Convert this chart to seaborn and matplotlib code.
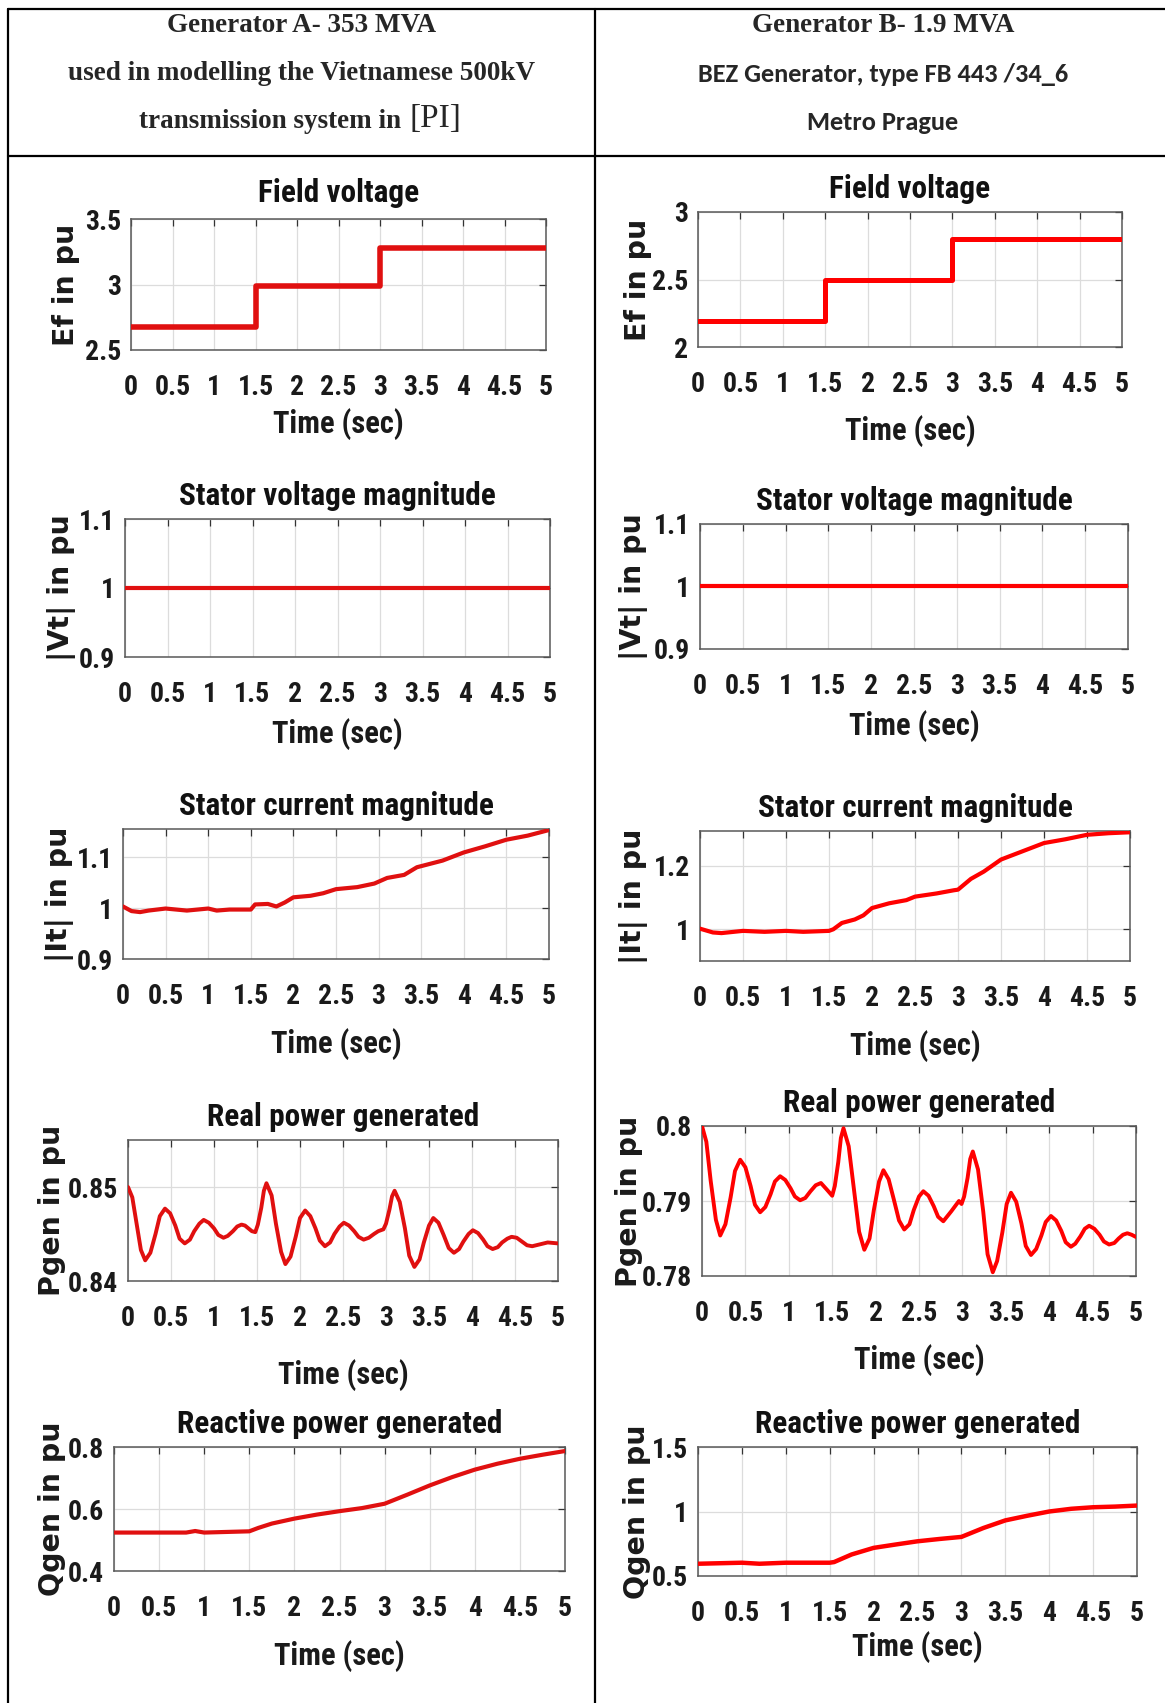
import matplotlib
matplotlib.use("Agg")
import matplotlib.pyplot as plt
import seaborn as sns
from matplotlib.lines import Line2D
from matplotlib.ticker import FuncFormatter, FixedLocator

# ---------------- data ----------------
# Field voltage (step changes at 1.5 s and 3 s)
fv_time = [0.0, 1.5, 3.0, 5.0]
fv_a = [2.675, 2.99, 3.275, 3.275]
fv_b = [2.19, 2.50, 2.80, 2.80]

# Stator voltage magnitude
vt_time = [0.0, 5.0]
vt_a = [1.0, 1.0]
vt_b = [1.0, 1.0]

# Stator current magnitude
it_a_time = [0, 0.1, 0.2, 0.3, 0.5, 0.75, 1.0, 1.1, 1.25, 1.5, 1.55, 1.7, 1.8, 1.9,
             2.0, 2.2, 2.35, 2.5, 2.75, 2.95, 3.1, 3.3, 3.45, 3.75, 4.0, 4.25, 4.5,
             4.75, 5.0]
it_a = [1.003, 0.994, 0.992, 0.995, 0.999, 0.995, 0.999, 0.995, 0.997, 0.997, 1.007,
        1.008, 1.003, 1.011, 1.021, 1.024, 1.029, 1.037, 1.041, 1.048, 1.059, 1.065,
        1.080, 1.093, 1.109, 1.121, 1.134, 1.142, 1.153]

it_b_time = [0, 0.15, 0.25, 0.5, 0.75, 1.0, 1.2, 1.5, 1.55, 1.65, 1.8, 1.9, 2.0, 2.2,
             2.4, 2.5, 2.75, 2.95, 3.0, 3.15, 3.3, 3.5, 3.75, 4.0, 4.25, 4.5, 4.75, 5.0]
it_b = [1.002, 0.990, 0.988, 0.995, 0.992, 0.995, 0.992, 0.995, 1.000, 1.020, 1.031,
        1.044, 1.067, 1.082, 1.092, 1.103, 1.113, 1.123, 1.125, 1.159, 1.182, 1.220,
        1.246, 1.272, 1.284, 1.298, 1.303, 1.306]

# Real power generated
pg_a_time = [0.00, 0.05, 0.10, 0.15, 0.20, 0.26, 0.32, 0.37, 0.43, 0.49, 0.55, 0.60,
             0.66, 0.72, 0.77, 0.83, 0.88, 0.94, 1.00, 1.05, 1.11, 1.16, 1.22, 1.27,
             1.32, 1.36, 1.40, 1.44, 1.48, 1.51, 1.55, 1.58, 1.61, 1.67, 1.72, 1.78,
             1.83, 1.89, 1.95, 2.00, 2.06, 2.12, 2.18, 2.23, 2.29, 2.35, 2.40, 2.46,
             2.51, 2.57, 2.63, 2.68, 2.74, 2.80, 2.86, 2.91, 2.97, 3.00, 3.04, 3.07,
             3.10, 3.16, 3.22, 3.27, 3.33, 3.39, 3.44, 3.50, 3.55, 3.61, 3.67, 3.73,
             3.79, 3.85, 3.90, 3.96, 4.01, 4.07, 4.13, 4.18, 4.24, 4.30, 4.35, 4.41,
             4.46, 4.52, 4.58, 4.64, 4.70, 4.79, 4.88, 5.00]
pg_a = [0.8500, 0.8489, 0.8461, 0.8433, 0.8422, 0.8430, 0.8450, 0.8469, 0.8477, 0.8472,
        0.8459, 0.8445, 0.8440, 0.8444, 0.8453, 0.8461, 0.8465, 0.8462, 0.8456, 0.8449,
        0.8446, 0.8448, 0.8453, 0.8458, 0.8460, 0.8459, 0.8456, 0.8453, 0.8452, 0.8460,
        0.8478, 0.8496, 0.8504, 0.8491, 0.8461, 0.8431, 0.8418, 0.8426, 0.8447, 0.8467,
        0.8475, 0.8469, 0.8456, 0.8443, 0.8437, 0.8441, 0.8450, 0.8458, 0.8462, 0.8459,
        0.8453, 0.8447, 0.8444, 0.8446, 0.8450, 0.8453, 0.8455, 0.8461, 0.8476, 0.8490,
        0.8496, 0.8484, 0.8456, 0.8427, 0.8415, 0.8423, 0.8441, 0.8459, 0.8467, 0.8462,
        0.8449, 0.8435, 0.8430, 0.8434, 0.8442, 0.8450, 0.8454, 0.8451, 0.8444, 0.8437,
        0.8434, 0.8436, 0.8441, 0.8445, 0.8447, 0.8446, 0.8442, 0.8438, 0.8437, 0.8439,
        0.8441, 0.8440]

pg_b_time = [0.00, 0.05, 0.10, 0.16, 0.21, 0.27, 0.33, 0.38, 0.44, 0.50, 0.56, 0.61,
             0.67, 0.73, 0.79, 0.84, 0.90, 0.96, 1.02, 1.07, 1.13, 1.19, 1.25, 1.31,
             1.37, 1.44, 1.50, 1.53, 1.57, 1.60, 1.63, 1.69, 1.75, 1.81, 1.87, 1.93,
             1.98, 2.04, 2.09, 2.15, 2.21, 2.27, 2.33, 2.39, 2.44, 2.50, 2.55, 2.61,
             2.67, 2.72, 2.78, 2.87, 2.96, 2.99, 3.02, 3.06, 3.09, 3.12, 3.18, 3.24,
             3.29, 3.35, 3.40, 3.46, 3.51, 3.56, 3.62, 3.68, 3.73, 3.79, 3.85, 3.91,
             3.96, 4.02, 4.08, 4.14, 4.19, 4.25, 4.30, 4.36, 4.41, 4.46, 4.52, 4.58,
             4.63, 4.69, 4.75, 4.80, 4.85, 4.90, 4.95, 5.00]
pg_b = [0.8000, 0.7979, 0.7927, 0.7875, 0.7854, 0.7869, 0.7905, 0.7940, 0.7955, 0.7945,
        0.7920, 0.7895, 0.7885, 0.7892, 0.7909, 0.7926, 0.7933, 0.7928, 0.7917, 0.7906,
        0.7901, 0.7904, 0.7913, 0.7921, 0.7924, 0.7915, 0.7907, 0.7920, 0.7952, 0.7984,
        0.7997, 0.7973, 0.7916, 0.7859, 0.7835, 0.7850, 0.7888, 0.7926, 0.7941, 0.7929,
        0.7902, 0.7874, 0.7862, 0.7869, 0.7888, 0.7906, 0.7913, 0.7907, 0.7893, 0.7879,
        0.7873, 0.7886, 0.7900, 0.7896, 0.7906, 0.7931, 0.7956, 0.7966, 0.7942, 0.7886,
        0.7829, 0.7805, 0.7820, 0.7858, 0.7896, 0.7911, 0.7899, 0.7870, 0.7840, 0.7828,
        0.7836, 0.7854, 0.7872, 0.7880, 0.7874, 0.7860, 0.7845, 0.7839, 0.7843, 0.7853,
        0.7863, 0.7867, 0.7863, 0.7855, 0.7846, 0.7842, 0.7844, 0.7850, 0.7855, 0.7857,
        0.7855, 0.7852]

# Reactive power generated
qg_a_time = [0, 0.5, 0.8, 0.9, 1.0, 1.25, 1.5, 1.6, 1.75, 2.0, 2.25, 2.5, 2.75, 3.0,
             3.25, 3.5, 3.75, 4.0, 4.25, 4.5, 4.75, 5.0]
qg_a = [0.524, 0.524, 0.524, 0.529, 0.524, 0.526, 0.528, 0.539, 0.553, 0.569, 0.582,
        0.593, 0.603, 0.617, 0.646, 0.676, 0.703, 0.727, 0.746, 0.762, 0.775, 0.787]

qg_b_time = [0, 0.5, 0.7, 1.0, 1.5, 1.55, 1.75, 2.0, 2.25, 2.5, 2.75, 3.0, 3.25, 3.5,
             3.75, 4.0, 4.25, 4.5, 4.75, 5.0]
qg_b = [0.595, 0.603, 0.595, 0.603, 0.603, 0.608, 0.667, 0.718, 0.744, 0.769, 0.787,
        0.803, 0.872, 0.931, 0.967, 1.000, 1.021, 1.033, 1.038, 1.046]

x_ticks = [0, 0.5, 1, 1.5, 2, 2.5, 3, 3.5, 4, 4.5, 5]
titles = ["Field voltage", "Stator voltage magnitude", "Stator current magnitude",
          "Real power generated", "Reactive power generated"]
ylabels = ["Ef in pu", "|Vt| in pu", "|It| in pu", "Pgen in pu", "Qgen in pu"]

# ---------------- style ----------------
sns.set_theme(style="white")
COND = ["Roboto Condensed", "DejaVu Sans"]
WIDE = ["DejaVu Sans"]
SERIF = ["Liberation Serif", "DejaVu Serif"]
CALI = ["Carlito", "Lato", "DejaVu Sans"]
plt.rcParams["font.family"] = COND
plt.rcParams["axes.unicode_minus"] = False

W, H = 1165, 1703
fig = plt.figure(figsize=(W / 100, H / 100), dpi=100)
fig.patch.set_facecolor("white")


def px_axes(x0, y0, x1, y1):
    return fig.add_axes([x0 / W, 1 - y1 / H, (x1 - x0) / W, (y1 - y0) / H])


def fig_line(x0, y0, x1, y1, lw=1.6):
    fig.add_artist(Line2D([x0 / W, x1 / W], [1 - y0 / H, 1 - y1 / H],
                          transform=fig.transFigure, color="black", lw=lw))


fmt = FuncFormatter(lambda v, p: f"{v:g}")

RED_A, RED_B = "#e01010", "#ff0000"
# layout: axes box in px, ylabel centre x in px, xlabel pad and title pad in pt
panels = [
    # generator A
    dict(t=fv_time, y=fv_a, step=True, ylim=(2.5, 3.5), yt=[2.5, 3, 3.5],
         box=(131, 219, 546, 350), ylx=66, xlp=5, col=RED_A, lw=4.0, k=0, tp=12),
    dict(t=vt_time, y=vt_a, ylim=(0.9, 1.1), yt=[0.9, 1, 1.1],
         box=(125, 519, 550, 657), ylx=62, xlp=7, col=RED_A, lw=3.0, k=1, tp=10),
    dict(t=it_a_time, y=it_a, ylim=(0.9, 1.155), yt=[0.9, 1, 1.1],
         box=(123, 829, 549, 959), ylx=60, xlp=13, col=RED_A, lw=3.0, k=2, tp=10),
    dict(t=pg_a_time, y=pg_a, ylim=(0.84, 0.855), yt=[0.84, 0.85],
         box=(128, 1140, 558, 1281), ylx=52, xlp=19, col=RED_A, lw=2.8, k=3, tp=10),
    dict(t=qg_a_time, y=qg_a, ylim=(0.4, 0.8), yt=[0.4, 0.6, 0.8],
         box=(114, 1447, 565, 1571), ylx=52, xlp=13, col=RED_A, lw=3.0, k=4, tp=10),
    # generator B
    dict(t=fv_time, y=fv_b, step=True, ylim=(2.0, 3.0), yt=[2, 2.5, 3],
         box=(698, 212, 1122, 347), ylx=638, xlp=12, col=RED_B, lw=3.6, k=0, tp=10),
    dict(t=vt_time, y=vt_b, ylim=(0.9, 1.1), yt=[0.9, 1, 1.1],
         box=(700, 524, 1128, 649), ylx=633, xlp=7, col=RED_B, lw=3.0, k=1, tp=10),
    dict(t=it_b_time, y=it_b, ylim=(0.9, 1.31), yt=[1, 1.2],
         box=(700, 831, 1130, 961), ylx=634, xlp=13, col=RED_B, lw=3.0, k=2, tp=10),
    dict(t=pg_b_time, y=pg_b, ylim=(0.78, 0.80), yt=[0.78, 0.79, 0.8],
         box=(702, 1126, 1136, 1276), ylx=629, xlp=12, col=RED_B, lw=2.8, k=3, tp=10),
    dict(t=qg_b_time, y=qg_b, ylim=(0.5, 1.5), yt=[0.5, 1, 1.5],
         box=(698, 1447, 1137, 1576), ylx=637, xlp=3, col=RED_B, lw=3.2, k=4, tp=10),
]

for p in panels:
    x0, y0, x1, y1 = p["box"]
    ax = px_axes(x0, y0, x1, y1)
    kw = dict(drawstyle="steps-post") if p.get("step") else {}
    sns.lineplot(x=p["t"], y=p["y"], ax=ax, color=p["col"], lw=p["lw"],
                 estimator=None, sort=False, legend=False, zorder=3, **kw)
    ax.set_xlim(0, 5)
    ax.set_ylim(*p["ylim"])
    ax.xaxis.set_major_locator(FixedLocator(x_ticks))
    ax.yaxis.set_major_locator(FixedLocator(p["yt"]))
    ax.xaxis.set_major_formatter(fmt)
    ax.yaxis.set_major_formatter(fmt)
    ax.set_axisbelow(True)
    ax.grid(True, color="#dcdcdc", lw=0.9)
    for s in ax.spines.values():
        s.set_color("#595959")
        s.set_linewidth(1.1)
    ax.tick_params(direction="in", length=5, width=0.9, color="#333333",
                   top=True, right=True, labelsize=20, labelcolor="#1a1a1a")
    ax.tick_params(axis="x", pad=17.5)
    ax.tick_params(axis="y", pad=7)
    for lab in ax.get_xticklabels() + ax.get_yticklabels():
        lab.set_fontweight("bold")
    k = p["k"]
    ax.set_title(titles[k], fontsize=22.5, fontweight="bold", pad=p["tp"],
                 color="#111111")
    ax.set_xlabel("Time (sec)", fontsize=22, fontweight="bold", labelpad=p["xlp"],
                  color="#1a1a1a")
    ax.set_ylabel(ylabels[k], fontsize=20.5, fontweight="bold", va="center",
                  family=WIDE, color="#1a1a1a")
    ax.yaxis.set_label_coords((p["ylx"] - x0) / (x1 - x0), 0.5)

# ---------------- table frame and header ----------------
fig_line(8, 9, W, 9)
fig_line(8, 156, W, 156)
fig_line(8, 9, 8, H)
fig_line(595, 9, 595, H)

fig.text(302 / W, 1 - 26 / H, "Generator A- 353 MVA", family=SERIF, weight="bold",
         size=19.5, ha="center", va="center")
fig.text(302 / W, 1 - 73 / H, "used in modelling the Vietnamese 500kV", family=SERIF,
         weight="bold", size=19.5, ha="center", va="center")
fig.text(408 / W, 1 - 121 / H, "transmission system in ", family=SERIF, weight="bold",
         size=19.5, ha="right", va="center")
fig.text(410 / W, 1 - 119 / H, "[PI]", family=SERIF, weight="normal", size=24,
         ha="left", va="center")

fig.text(883 / W, 1 - 26 / H, "Generator B- 1.9 MVA", family=SERIF, weight="bold",
         size=19.5, ha="center", va="center")
fig.text(883 / W, 1 - 74 / H, "BEZ Generator, type FB 443 /34_6", family=CALI,
         weight="bold", size=19, ha="center", va="center")
fig.text(883 / W, 1 - 123 / H, "Metro Prague", family=CALI, weight="bold", size=19,
         ha="center", va="center")

fig.savefig("out.png", dpi=100, facecolor="white")
